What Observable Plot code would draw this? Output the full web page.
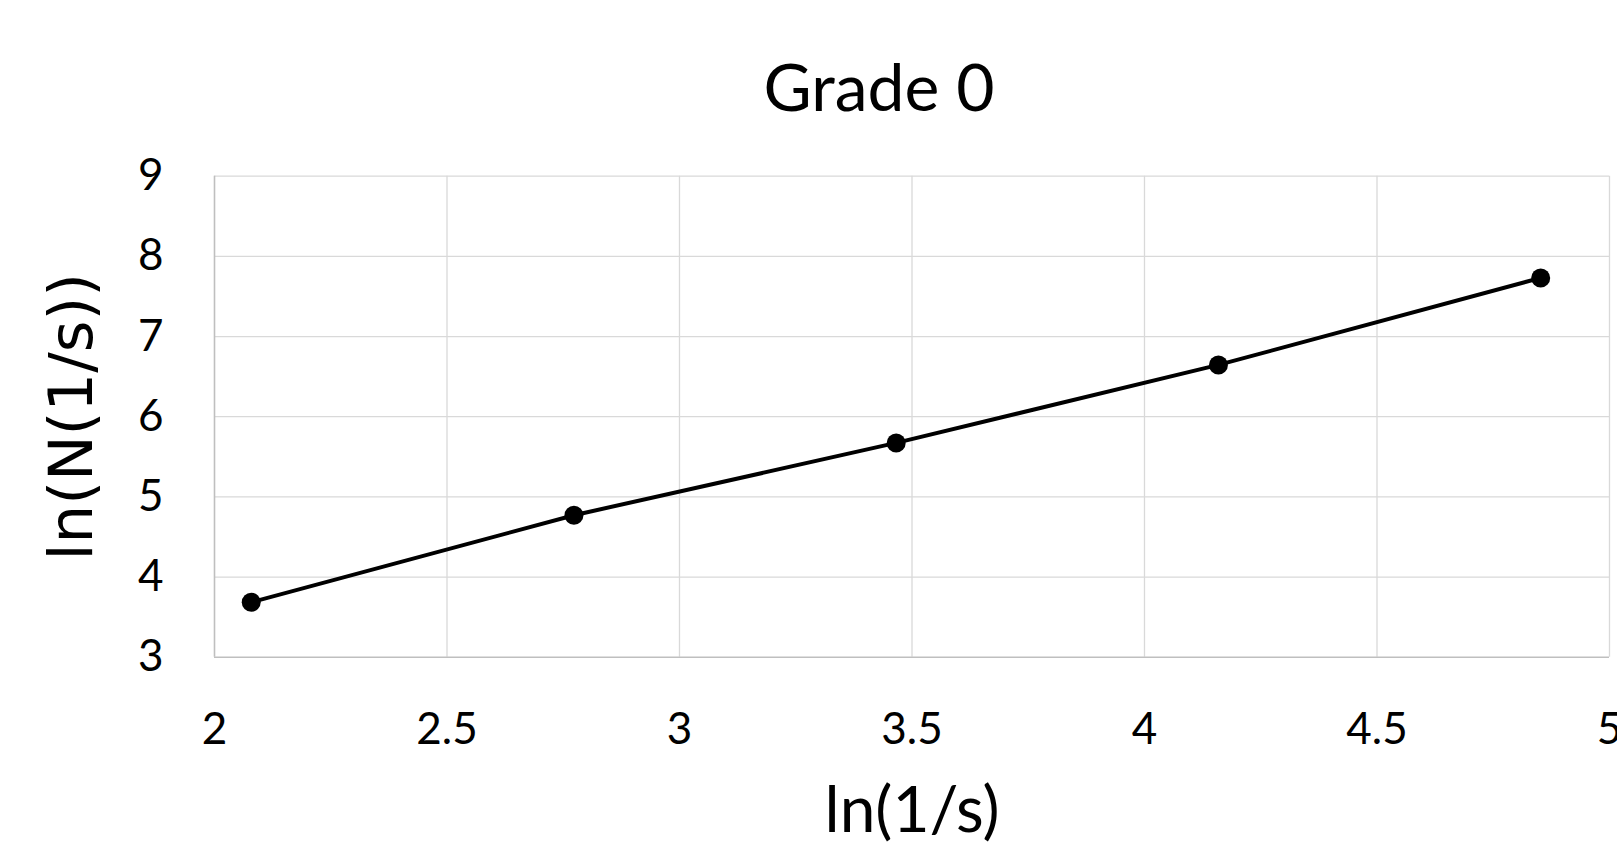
<!DOCTYPE html>
<html>
<head>
<meta charset="utf-8">
<script src="https://cdn.jsdelivr.net/npm/d3@7"></script>
<script src="https://cdn.jsdelivr.net/npm/@observablehq/plot@0.6"></script>
<style>
  html, body { margin: 0; padding: 0; background: #fff; }
  #wrap { position: relative; width: 1617px; height: 848px; overflow: hidden; }
  #title { position: absolute; top: 53px; left: 879px; transform: translateX(-50%);
           font-family: Lato, "Open Sans", sans-serif; font-size: 66px; line-height: 66px;
           color: #000; white-space: nowrap; }
  #chart { position: absolute; top: 130px; left: 0; }
</style>
</head>
<body>
<div id="wrap">
  <div id="title">Grade 0</div>
  <div id="chart"></div>
</div>
<script>
// Data
const lnInvS = [2.079, 2.773, 3.466, 4.159, 4.852];
const lnN    = [3.686, 4.771, 5.673, 6.646, 7.731];
const xTicks = [2, 2.5, 3, 3.5, 4, 4.5, 5];
const yTicks = [3, 4, 5, 6, 7, 8, 9];
const xLabel = "ln(1/s)";
const yLabel = "ln(N(1/s))";

const data = lnInvS.map((x, i) => ({x, y: lnN[i]}));

const W = 1617, H = 718;
const mL = 214, mR = 8, mT = 45.7, mB = H - 526.7;

const chart = Plot.plot({
  width: W,
  height: H,
  marginLeft: mL,
  marginRight: mR,
  marginTop: mT,
  marginBottom: mB,
  style: { fontFamily: "Lato, 'Open Sans', sans-serif", background: "#fff", color: "#000" },
  x: { domain: [2, 5] },
  y: { domain: [3, 9] },
  marks: [
    Plot.gridX(xTicks.filter(d => d !== 2), { stroke: "#d9d9d9", strokeOpacity: 1, strokeWidth: 1.3 }),
    Plot.gridY(yTicks.filter(d => d !== 3), { stroke: "#d9d9d9", strokeOpacity: 1, strokeWidth: 1.3 }),
    Plot.ruleX([2], { stroke: "#bfbfbf", strokeWidth: 1.6 }),
    Plot.ruleY([3], { stroke: "#bfbfbf", strokeWidth: 1.6 }),
    Plot.axisX({ ticks: xTicks, tickSize: 0, tickPadding: 56, fontSize: 44, label: null, tickFormat: d => String(d) }),
    Plot.axisY({ ticks: yTicks, tickSize: 0, tickPadding: 51, fontSize: 44, label: null, tickFormat: d => String(d) }),
    Plot.line(data, { x: "x", y: "y", stroke: "#000", strokeWidth: 4 }),
    Plot.dot(data, { x: "x", y: "y", r: 9.5, fill: "#000", stroke: "none" }),
    Plot.text([xLabel], { frameAnchor: "bottom", dy: 154, fontSize: 64, lineAnchor: "middle", textAnchor: "middle", fill: "#000" }),
    Plot.text([yLabel], { frameAnchor: "left", dx: -142, rotate: -90, fontSize: 61, lineAnchor: "middle", textAnchor: "middle", fill: "#000", fontFamily: "DejaVu Sans" })
  ]
});
document.getElementById("chart").appendChild(chart);
</script>
</body>
</html>
